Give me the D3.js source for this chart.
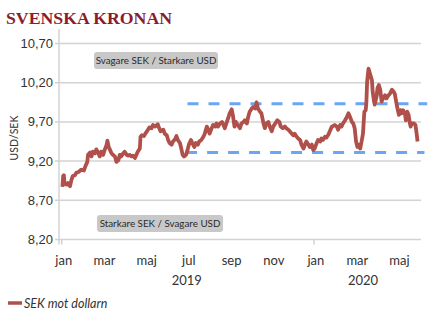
<!DOCTYPE html>
<html>
<head>
<meta charset="utf-8">
<script src="https://cdn.jsdelivr.net/npm/d3@7"></script>
<style>
  body { margin: 0; background: #fff; }
  svg { display: block; }
</style>
</head>
<body>
<svg id="chart" width="441" height="323"></svg>
<script>
// SEK per USD, daily closes (sampled)
const dates = [
  "2019-01-02","2019-01-03","2019-01-04","2019-01-05","2019-01-08","2019-01-10","2019-01-13","2019-01-15","2019-01-17","2019-01-20",
  "2019-01-22","2019-01-25","2019-01-29","2019-02-02","2019-02-04","2019-02-07","2019-02-08","2019-02-11","2019-02-13","2019-02-15",
  "2019-02-18","2019-02-20","2019-02-23","2019-02-25","2019-02-27","2019-03-02","2019-03-04","2019-03-07","2019-03-08","2019-03-10",
  "2019-03-12","2019-03-14","2019-03-16","2019-03-19","2019-03-21","2019-03-24","2019-03-26","2019-03-28","2019-03-31","2019-04-02",
  "2019-04-05","2019-04-07","2019-04-09","2019-04-12","2019-04-14","2019-04-17","2019-04-19","2019-04-21","2019-04-24","2019-04-25",
  "2019-04-27","2019-04-30","2019-05-02","2019-05-05","2019-05-08","2019-05-11","2019-05-13","2019-05-16","2019-05-20","2019-05-21",
  "2019-05-24","2019-05-28","2019-05-30","2019-06-02","2019-06-04","2019-06-06","2019-06-09","2019-06-11","2019-06-14","2019-06-16",
  "2019-06-18","2019-06-21","2019-06-23","2019-06-25","2019-06-27","2019-06-30","2019-07-02","2019-07-04","2019-07-07","2019-07-09",
  "2019-07-12","2019-07-14","2019-07-17","2019-07-19","2019-07-22","2019-07-25","2019-07-27","2019-07-30","2019-08-01","2019-08-03",
  "2019-08-06","2019-08-08","2019-08-11","2019-08-13","2019-08-15","2019-08-18","2019-08-21","2019-08-24","2019-08-25","2019-08-28",
  "2019-08-30","2019-09-01","2019-09-04","2019-09-06","2019-09-08","2019-09-10","2019-09-12","2019-09-16","2019-09-18","2019-09-21",
  "2019-09-23","2019-09-26","2019-09-28","2019-09-30","2019-10-03","2019-10-05","2019-10-08","2019-10-10","2019-10-12","2019-10-15",
  "2019-10-17","2019-10-20","2019-10-22","2019-10-24","2019-10-27","2019-10-29","2019-11-01","2019-11-03","2019-11-06","2019-11-09",
  "2019-11-12","2019-11-14","2019-11-17","2019-11-20","2019-11-22","2019-11-25","2019-11-27","2019-11-30","2019-12-02","2019-12-04",
  "2019-12-07","2019-12-09","2019-12-12","2019-12-14","2019-12-17","2019-12-19","2019-12-21","2019-12-24","2019-12-26","2019-12-29",
  "2019-12-31","2020-01-02","2020-01-05","2020-01-07","2020-01-10","2020-01-12","2020-01-14","2020-01-17","2020-01-19","2020-01-22",
  "2020-01-24","2020-01-27","2020-01-29","2020-01-31","2020-02-03","2020-02-05","2020-02-08","2020-02-10","2020-02-12","2020-02-15",
  "2020-02-17","2020-02-20","2020-02-22","2020-02-25","2020-02-27","2020-02-29","2020-03-02","2020-03-04","2020-03-06","2020-03-08",
  "2020-03-10","2020-03-12","2020-03-14","2020-03-16","2020-03-17","2020-03-18","2020-03-20","2020-03-22","2020-03-25","2020-03-26",
  "2020-03-28","2020-03-29","2020-04-01","2020-04-02","2020-04-04","2020-04-06","2020-04-08","2020-04-10","2020-04-13","2020-04-15",
  "2020-04-18","2020-04-20","2020-04-23","2020-04-25","2020-04-27","2020-04-29","2020-05-01","2020-05-03","2020-05-05","2020-05-07",
  "2020-05-09","2020-05-12","2020-05-13","2020-05-15","2020-05-17","2020-05-19","2020-05-20","2020-05-22","2020-05-25","2020-05-27",
  "2020-05-29","2020-05-30"
];
const values = [
  8.87,9.01,9.02,8.92,8.90,8.92,8.88,8.96,9.01,9.02,
  9.05,9.06,9.09,9.08,9.13,9.19,9.28,9.31,9.26,9.32,
  9.30,9.35,9.30,9.26,9.32,9.28,9.34,9.41,9.46,9.38,
  9.34,9.30,9.28,9.26,9.19,9.21,9.28,9.26,9.30,9.32,
  9.28,9.27,9.28,9.26,9.27,9.24,9.28,9.32,9.36,9.51,
  9.53,9.52,9.55,9.59,9.63,9.62,9.66,9.64,9.67,9.64,
  9.58,9.60,9.55,9.53,9.47,9.43,9.41,9.45,9.48,9.52,
  9.47,9.43,9.36,9.28,9.26,9.28,9.34,9.41,9.47,9.43,
  9.38,9.43,9.41,9.45,9.47,9.51,9.55,9.64,9.60,9.55,
  9.62,9.66,9.64,9.68,9.64,9.68,9.70,9.64,9.62,9.70,
  9.75,9.81,9.86,9.77,9.64,9.70,9.67,9.62,9.68,9.70,
  9.72,9.68,9.77,9.83,9.87,9.89,9.87,9.95,9.87,9.83,
  9.81,9.68,9.62,9.68,9.70,9.64,9.58,9.64,9.68,9.72,
  9.70,9.64,9.62,9.64,9.62,9.60,9.58,9.55,9.53,9.55,
  9.51,9.49,9.47,9.41,9.36,9.41,9.45,9.41,9.38,9.41,
  9.34,9.36,9.43,9.47,9.45,9.49,9.47,9.51,9.50,9.54,
  9.58,9.64,9.65,9.66,9.64,9.60,9.66,9.64,9.68,9.72,
  9.75,9.81,9.77,9.70,9.68,9.62,9.45,9.38,9.41,9.36,
  9.45,9.55,9.83,9.85,9.96,10.21,10.38,10.32,10.23,10.09,
  9.96,9.92,10.04,10.13,10.17,10.11,9.96,10.00,10.04,10.00,
  10.04,10.06,10.11,10.09,10.06,9.96,9.87,9.79,9.85,9.81,
  9.85,9.79,9.72,9.83,9.79,9.68,9.64,9.68,9.68,9.66,
  9.53,9.45
];

// Trading range guides
const rangeLevels = [9.93, 9.31];
const rangeStarts = ["2019-07-02", "2019-06-30"];
const rangeEnds = ["2020-06-13", "2020-06-09"];

// Axes
const yTicks = [8.2, 8.7, 9.2, 9.7, 10.2, 10.7];
const monthTicks = ["2019-01-01","2019-03-01","2019-05-01","2019-07-01","2019-09-01","2019-11-01","2020-01-01","2020-03-01","2020-05-01"];
const monthNames = ["jan","mar","maj","jul","sep","nov","jan","mar","maj"];
const yearTicks = ["2019-01-01","2020-01-01"];
const yearNames = ["2019","2020"];
const yearCentres = ["2019-07-01","2020-03-12"];

const title = "SVENSKA KRONAN";
const yTitle = "USD/SEK";
const seriesName = "SEK mot dollarn";
const notes = ["Svagare SEK / Starkare USD", "Starkare SEK / Svagare USD"];

(function draw() {
  const parse = d3.utcParse("%Y-%m-%d");
  const data = dates.map((d, i) => ({ date: parse(d), value: values[i] }));

  const svg = d3.select("#chart");
  const plotLeft = 59, plotRight = 421, plotTop = 43.5, plotBottom = 239.5;

  const x = d3.scaleUtc()
    .domain([parse("2018-12-28"), parse("2020-06-04")])
    .range([plotLeft, plotRight]);
  const y = d3.scaleLinear()
    .domain([8.2, 10.7])
    .range([plotBottom, plotTop]);

  const sans = "Lato, 'Open Sans', sans-serif";
  const fmt = v => d3.format(".2f")(v).replace(".", ",");

  // Title
  svg.append("text")
    .attr("x", 6).attr("y", 24)
    .attr("font-family", "'Liberation Serif', 'DejaVu Serif', serif")
    .attr("font-weight", "bold")
    .attr("font-size", 17)
    .attr("textLength", 166)
    .attr("lengthAdjust", "spacingAndGlyphs")
    .attr("fill", "#8a1c2e")
    .text(title);

  // Horizontal gridlines
  svg.append("g")
    .selectAll("line")
    .data(yTicks)
    .join("line")
    .attr("x1", plotLeft - 4).attr("x2", plotRight)
    .attr("y1", d => y(d)).attr("y2", d => y(d))
    .attr("stroke", "#d3d3d3")
    .attr("stroke-width", 1.5);

  // Vertical axis line
  svg.append("line")
    .attr("x1", plotLeft).attr("x2", plotLeft)
    .attr("y1", 29).attr("y2", plotBottom + 5)
    .attr("stroke", "#d3d3d3")
    .attr("stroke-width", 1.5);

  // Year ticks below the baseline
  svg.append("g")
    .selectAll("line")
    .data(yearTicks)
    .join("line")
    .attr("x1", d => x(parse(d))).attr("x2", d => x(parse(d)))
    .attr("y1", plotBottom).attr("y2", plotBottom + 5)
    .attr("stroke", "#d3d3d3")
    .attr("stroke-width", 1.5);

  // Y tick labels
  svg.append("g")
    .selectAll("text")
    .data(yTicks)
    .join("text")
    .attr("x", plotLeft - 6)
    .attr("y", d => y(d) + 4.5)
    .attr("text-anchor", "end")
    .attr("font-family", "'Liberation Sans', Arial, sans-serif")
    .attr("font-size", 13)
    .attr("fill", "#333")
    .text(fmt);

  // Y title
  svg.append("text")
    .attr("transform", "translate(18,138) rotate(-90)")
    .attr("text-anchor", "middle")
    .attr("font-family", sans)
    .attr("font-size", 10.5)
    .attr("fill", "#333")
    .text(yTitle);

  // Month labels
  svg.append("g")
    .selectAll("text")
    .data(monthTicks)
    .join("text")
    .attr("x", d => x(parse(d)) + 2)
    .attr("y", 265)
    .attr("text-anchor", "middle")
    .attr("font-family", sans)
    .attr("font-size", 13)
    .attr("fill", "#333")
    .text((d, i) => monthNames[i]);

  // Year labels
  svg.append("g")
    .selectAll("text")
    .data(yearCentres)
    .join("text")
    .attr("x", d => x(parse(d)))
    .attr("y", 285)
    .attr("text-anchor", "middle")
    .attr("font-family", sans)
    .attr("font-size", 13)
    .attr("fill", "#333")
    .text((d, i) => yearNames[i]);

  // Annotation boxes
  const noteBoxes = [
    { cx: 156, cy: 60.5, w: 124, h: 17 },
    { cx: 160, cy: 223.5, w: 126, h: 17 }
  ];
  const noteG = svg.append("g")
    .selectAll("g")
    .data(notes)
    .join("g")
    .attr("transform", (d, i) => `translate(${noteBoxes[i].cx},${noteBoxes[i].cy})`);
  noteG.append("rect")
    .attr("x", (d, i) => -noteBoxes[i].w / 2)
    .attr("y", (d, i) => -noteBoxes[i].h / 2)
    .attr("width", (d, i) => noteBoxes[i].w)
    .attr("height", (d, i) => noteBoxes[i].h)
    .attr("rx", 3)
    .attr("fill", "#c8c8c8");
  noteG.append("text")
    .attr("y", 3.6)
    .attr("text-anchor", "middle")
    .attr("font-family", sans)
    .attr("font-size", 9.8)
    .attr("fill", "#2a2a2a")
    .text(d => d);

  // Range guides
  svg.append("g")
    .selectAll("line")
    .data(rangeLevels)
    .join("line")
    .attr("x1", (d, i) => x(parse(rangeStarts[i])))
    .attr("x2", (d, i) => x(parse(rangeEnds[i])))
    .attr("y1", d => y(d)).attr("y2", d => y(d))
    .attr("stroke", "#6aa6f2")
    .attr("stroke-width", 3)
    .attr("stroke-dasharray", "11,10");

  // Exchange rate line
  const line = d3.line()
    .x(d => x(d.date))
    .y(d => y(d.value));
  svg.append("path")
    .datum(data)
    .attr("d", line)
    .attr("fill", "none")
    .attr("stroke", "#b0504a")
    .attr("stroke-width", 3.8)
    .attr("stroke-linejoin", "round")
    .attr("stroke-linecap", "butt");

  // Legend
  svg.append("line")
    .attr("x1", 8).attr("x2", 22)
    .attr("y1", 303).attr("y2", 303)
    .attr("stroke", "#b0504a")
    .attr("stroke-width", 3.5);
  svg.append("text")
    .attr("x", 24).attr("y", 307.5)
    .attr("font-family", sans)
    .attr("font-style", "italic")
    .attr("font-size", 12.5)
    .attr("fill", "#333")
    .text(seriesName);
})();
</script>
</body>
</html>
